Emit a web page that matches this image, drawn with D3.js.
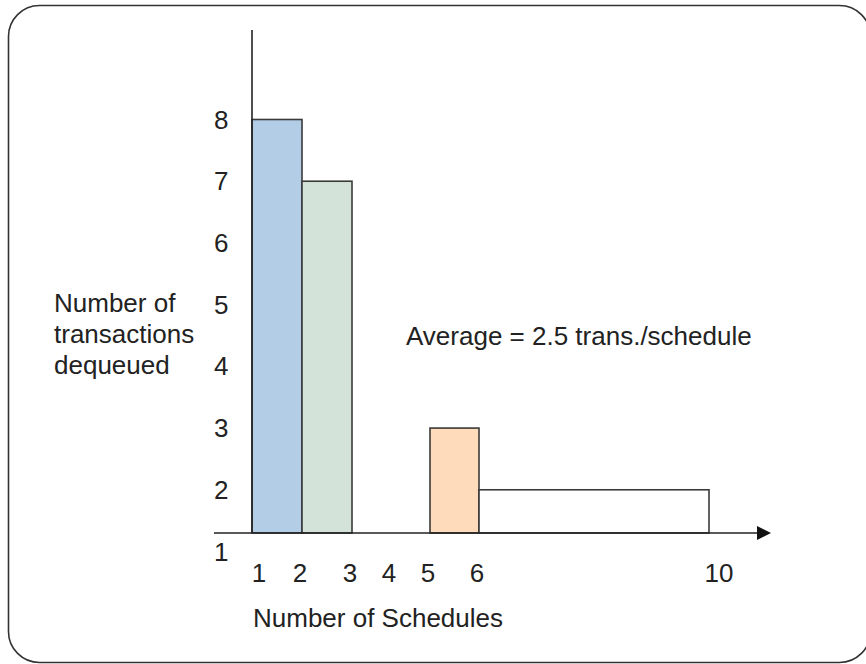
<!DOCTYPE html>
<html>
<head>
<meta charset="utf-8">
<script src="https://cdn.jsdelivr.net/npm/d3@7"></script>
<style>
  body { margin: 0; background: #fff; }
  svg { display: block; }
</style>
</head>
<body>
<div id="wrapper"></div>
<script>
const width = 866
const height = 664

// schedules covered by each bar, and transactions dequeued
const barFrom = [1, 2, 5, 6]
const barTo = [2, 3, 6, 10]
const barValues = [8, 7, 3, 2]
const barColors = ["#b3cde6", "#d3e3da", "#fedbba", "#ffffff"]

const xTicks = [1, 2, 3, 4, 5, 6, 10]
const yTicks = [1, 2, 3, 4, 5, 6, 7, 8]
const baseValue = 1.3   // where the x axis sits on the y scale

const yTitle = ["Number of", "transactions", "dequeued"]
const xTitle = "Number of Schedules"
const note = "Average = 2.5 trans./schedule"

// the drawing is not to scale: breaks at the bar edges
const x = d3.scaleLinear()
    .domain([1, 2, 3, 5, 6, 10])
    .range([252, 302, 352, 430, 479, 709])

const y = d3.scaleLinear()
    .domain([1, 8])
    .range([551.5, 119.5])

const ink = "#222"
const font = "'Liberation Sans', Arial, Helvetica, sans-serif"

const svg = d3.select("#wrapper").append("svg")
    .attr("width", width)
    .attr("height", height)
    .style("font-family", font)
    .style("font-size", "26px")

// frame
svg.append("rect")
    .attr("x", 8.5)
    .attr("y", 5.5)
    .attr("width", 862)
    .attr("height", 657)
    .attr("rx", 31)
    .attr("fill", "none")
    .attr("stroke", "#333")
    .attr("stroke-width", 1.6)

const base = y(baseValue)

// bars
const bars = barValues.map((v, i) => ({ from: barFrom[i], to: barTo[i], value: v, color: barColors[i] }))
svg.append("g")
    .selectAll("rect")
    .data(bars)
    .join("rect")
    .attr("x", d => x(d.from))
    .attr("y", d => y(d.value))
    .attr("width", d => x(d.to) - x(d.from))
    .attr("height", d => base - y(d.value))
    .attr("fill", d => d.color)
    .attr("stroke", "#3a3a3a")
    .attr("stroke-width", 1.6)

// y axis line
svg.append("line")
    .attr("x1", x(1)).attr("x2", x(1))
    .attr("y1", 30).attr("y2", base)
    .attr("stroke", ink)
    .attr("stroke-width", 1.6)

// x axis line with arrow
svg.append("line")
    .attr("x1", 214).attr("x2", 760)
    .attr("y1", base).attr("y2", base)
    .attr("stroke", ink)
    .attr("stroke-width", 1.6)

svg.append("path")
    .attr("d", d3.line()([[757, base - 7], [771, base], [757, base + 7]]) + "Z")
    .attr("fill", "#111")

// y tick labels
svg.append("g")
    .selectAll("text")
    .data(yTicks)
    .join("text")
    .attr("x", 214)
    .attr("y", d => y(d))
    .attr("dy", "0.35em")
    .attr("fill", ink)
    .text(d => d)

// x tick labels
svg.append("g")
    .selectAll("text")
    .data(xTicks)
    .join("text")
    .attr("x", d => x(d) + (d === 1 ? 7 : d === 10 ? 10 : -2))
    .attr("y", 582)
    .attr("text-anchor", "middle")
    .attr("fill", ink)
    .text(d => d)

// titles
svg.append("text")
    .attr("x", 253)
    .attr("y", 627)
    .attr("fill", ink)
    .text(xTitle)

svg.append("g")
    .selectAll("text")
    .data(yTitle)
    .join("text")
    .attr("x", 54)
    .attr("y", (d, i) => 312 + i * 31)
    .attr("fill", ink)
    .text(d => d)

svg.append("text")
    .attr("x", 406)
    .attr("y", 345)
    .attr("fill", ink)
    .text(note)
</script>
</body>
</html>
